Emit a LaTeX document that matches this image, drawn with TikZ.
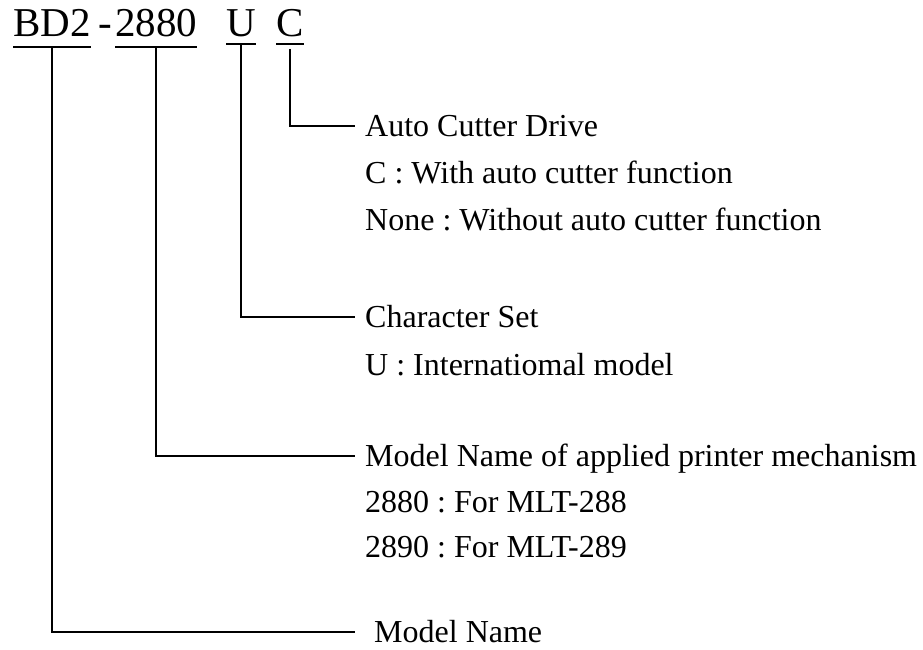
\documentclass[tikz,border=0pt]{standalone}
\usepackage{fontspec}
\setmainfont{Liberation Serif}
\usetikzlibrary{positioning}
\frenchspacing

\tikzset{
  code/.style={inner sep=0pt, anchor=base west, font=\fontsize{41}{48}\selectfont},
  txt/.style={inner xsep=10pt, inner ysep=0pt, anchor=west, text height=21pt,
    text depth=0pt, font=\fontsize{32}{38}\selectfont},
  lead/.style={line width=2.5pt},
  uline/.style={line width=2.5pt}
}

\begin{document}
\begin{tikzpicture}[x=1pt,y=-1pt]
  \useasboundingbox (0,0) rectangle (923,650);
  % part number
  \node[code] (bd)   at (13,37)  {BD2};
  \node[code] (dash) at (98,37)  {-};
  \node[code] (mech) at (115,37) {2880};
  \node[code] (cs)   at (226,37) {U};
  \node[code] (cut)  at (276,37) {C};
  \foreach \n in {bd,mech}
    \draw[uline] ([yshift=-10pt]\n.base west) -- ([yshift=-10pt]\n.base east);
  \foreach \n in {cs,cut}
    \draw[uline] ([yshift=-7pt]\n.base west) -- ([yshift=-7pt]\n.base east);

  % descriptions
  \node[txt] (cutter) at (355,126) {Auto Cutter Drive};
  \node[txt, below=47pt of cutter.west, anchor=west] (cut1) {C : With auto cutter function};
  \node[txt, below=47pt of cut1.west, anchor=west] (cut2) {None : Without auto cutter function};
  \node[txt] (charset) at (355,317) {Character Set};
  \node[txt, below=48pt of charset.west, anchor=west] (cs1) {U : Internatiomal model};
  \node[txt] (mechname) at (355,456) {Model Name of applied printer mechanism};
  \node[txt, below=46pt of mechname.west, anchor=west] (mech1) {2880 : For MLT-288};
  \node[txt, below=45pt of mech1.west, anchor=west] (mech2) {2890 : For MLT-289};
  \node[txt, inner xsep=19pt] (model) at (355,632) {Model Name};

  % leaders
  \draw[lead] ([yshift=-12pt]cut.base) |- (cutter.west);
  \draw[lead] ([yshift=-7pt]cs.base) |- (charset.west);
  \draw[lead] ([yshift=-10pt]mech.base) |- (mechname.west);
  \draw[lead] ([yshift=-10pt]bd.base) |- (model.west);
\end{tikzpicture}
\end{document}
